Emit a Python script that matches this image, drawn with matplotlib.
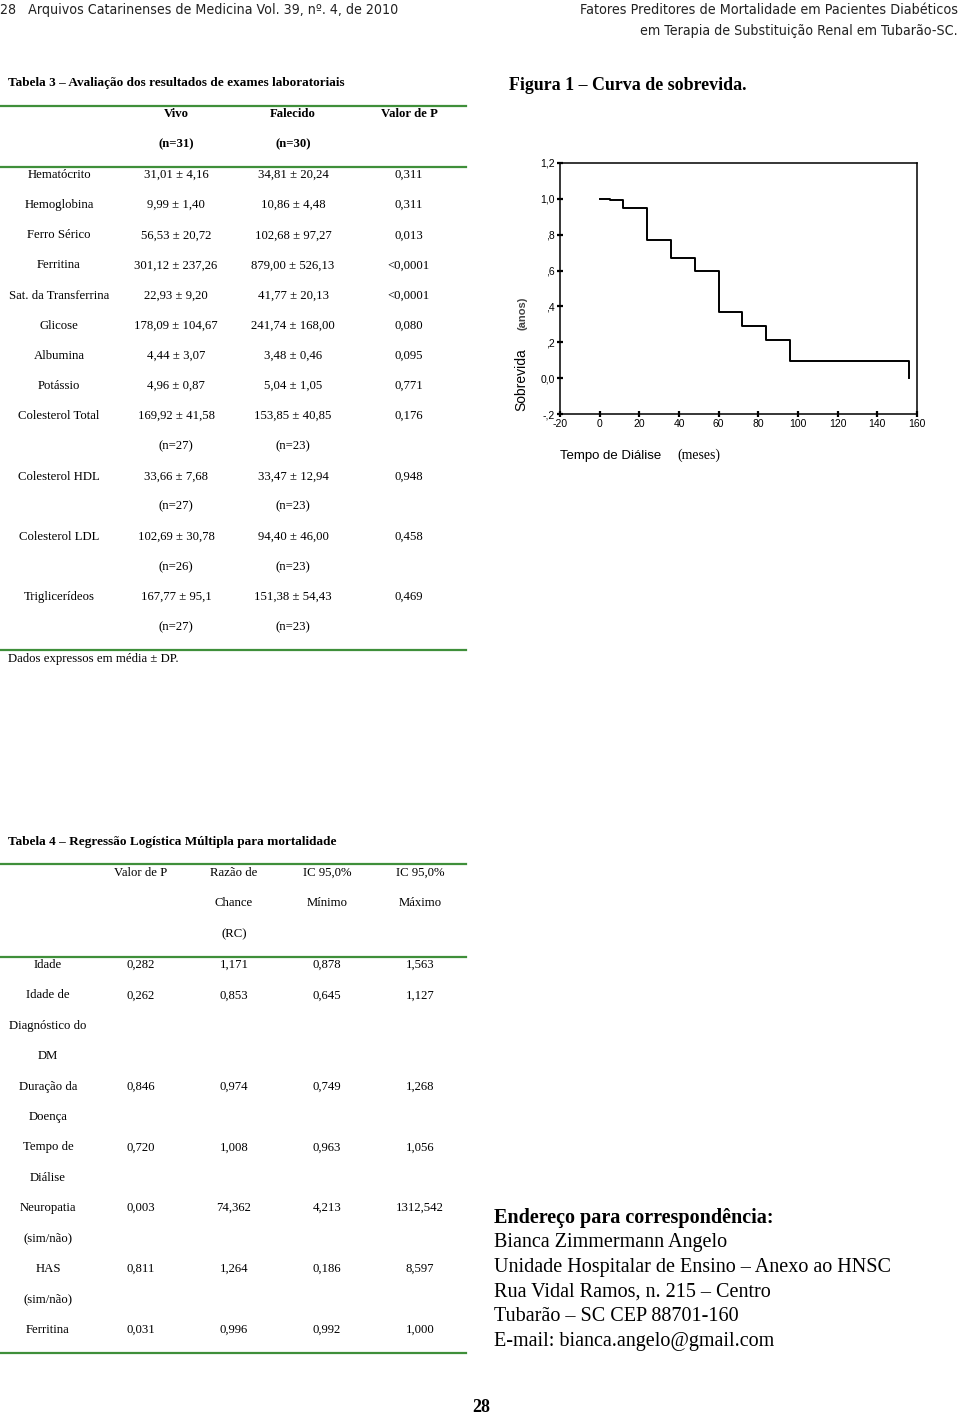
import matplotlib
matplotlib.use("Agg")
import matplotlib.pyplot as plt

plt.rcParams["axes.unicode_minus"] = False

# ---- data read from the page ----
header_left = "28   Arquivos Catarinenses de Medicina Vol. 39, nº. 4, de 2010"
header_right = ["Fatores Preditores de Mortalidade em Pacientes Diabéticos",
                "em Terapia de Substituição Renal em Tubarão-SC."]

t3_title = "Tabela 3 – Avaliação dos resultados de exames laboratoriais"
t3_head = ["Vivo", "Falecido", "Valor de P"]
t3_head_n = ["(n=31)", "(n=30)"]
t3_rows = ["Hematócrito", "Hemoglobina", "Ferro Sérico", "Ferritina",
           "Sat. da Transferrina", "Glicose", "Albumina", "Potássio",
           "Colesterol Total", "Colesterol HDL", "Colesterol LDL", "Triglicerídeos"]
t3_vivo = ["31,01 ± 4,16", "9,99 ± 1,40", "56,53 ± 20,72", "301,12 ± 237,26",
           "22,93 ± 9,20", "178,09 ± 104,67", "4,44 ± 3,07", "4,96 ± 0,87",
           "169,92 ± 41,58", "33,66 ± 7,68", "102,69 ± 30,78", "167,77 ± 95,1"]
t3_falecido = ["34,81 ± 20,24", "10,86 ± 4,48", "102,68 ± 97,27", "879,00 ± 526,13",
               "41,77 ± 20,13", "241,74 ± 168,00", "3,48 ± 0,46", "5,04 ± 1,05",
               "153,85 ± 40,85", "33,47 ± 12,94", "94,40 ± 46,00", "151,38 ± 54,43"]
t3_p = ["0,311", "0,311", "0,013", "<0,0001", "<0,0001", "0,080", "0,095",
        "0,771", "0,176", "0,948", "0,458", "0,469"]
t3_n_vivo = [None] * 8 + ["(n=27)", "(n=27)", "(n=26)", "(n=27)"]
t3_n_falecido = [None] * 8 + ["(n=23)", "(n=23)", "(n=23)", "(n=23)"]
t3_note = "Dados expressos em média ± DP."

fig_title = "Figura 1 – Curva de sobrevida."
surv_time = [0, 5, 12, 24, 36, 48, 60, 72, 84, 96, 156]
surv_prob = [1.0, 0.995, 0.95, 0.77, 0.67, 0.595, 0.37, 0.29, 0.21, 0.095, 0.0]
x_ticks = [-20, 0, 20, 40, 60, 80, 100, 120, 140, 160]
y_ticks = [-0.2, 0.0, 0.2, 0.4, 0.6, 0.8, 1.0, 1.2]
y_tick_labels = ["-,2", "0,0", ",2", ",4", ",6", ",8", "1,0", "1,2"]

t4_title = "Tabela 4 – Regressão Logística Múltipla para mortalidade"
t4_head = [["Valor de P"], ["Razão de", "Chance", "(RC)"],
           ["IC 95,0%", "Mínimo"], ["IC 95,0%", "Máximo"]]
t4_rows = [["Idade"], ["Idade de", "Diagnóstico do", "DM"], ["Duração da", "Doença"],
           ["Tempo de", "Diálise"], ["Neuropatia", "(sim/não)"],
           ["HAS", "(sim/não)"], ["Ferritina"]]
t4_p = ["0,282", "0,262", "0,846", "0,720", "0,003", "0,811", "0,031"]
t4_rc = ["1,171", "0,853", "0,974", "1,008", "74,362", "1,264", "0,996"]
t4_min = ["0,878", "0,645", "0,749", "0,963", "4,213", "0,186", "0,992"]
t4_max = ["1,563", "1,127", "1,268", "1,056", "1312,542", "8,597", "1,000"]

address = ["Bianca Zimmermann Angelo",
           "Unidade Hospitalar de Ensino – Anexo ao HNSC",
           "Rua Vidal Ramos, n. 215 – Centro",
           "Tubarão – SC CEP 88701-160",
           "E-mail: bianca.angelo@gmail.com"]

SERIF = ["Liberation Serif", "DejaVu Serif"]
SANS = ["Liberation Sans", "DejaVu Sans"]
GREEN = "#3f8f3a"

fig = plt.figure(figsize=(9.6, 14.18), dpi=100)
page = fig.add_axes([0, 0, 1, 1])
page.set_xlim(0, 960)
page.set_ylim(1418, 0)
page.axis("off")


def fit_width(txt, width_px):
    # shrink/grow a text until it spans width_px pixels
    r = fig.canvas.get_renderer()
    w = txt.get_window_extent(renderer=r).width
    txt.set_fontsize(txt.get_fontsize() * width_px / w)


# header (condensed sans in the original)
h1 = page.text(0, 10, header_left, family="DejaVu Sans", fontstretch="condensed",
               fontsize=13, color="#222", va="center", ha="left")
h2 = page.text(958, 10, header_right[0], family="DejaVu Sans", fontstretch="condensed",
               fontsize=13, color="#222", va="center", ha="right")
h3 = page.text(958, 31, header_right[1], family="DejaVu Sans", fontstretch="condensed",
               fontsize=13, color="#222", va="center", ha="right")
fit_width(h1, 397)
fit_width(h2, 378)
fit_width(h3, 316)

# ---- Tabela 3 ----
page.text(8, 83, t3_title, family=SERIF, fontsize=9.5, weight="bold", va="center")
for yl in (106, 167, 650):
    page.plot([0, 466], [yl, yl], color=GREEN, lw=1.6)
cols3 = [59, 176, 293, 409]
for x, s in zip(cols3[1:], t3_head):
    page.text(x, 114, s, family=SERIF, fontsize=9.2, weight="bold", ha="center", va="center")
for x, s in zip(cols3[1:3], t3_head_n):
    page.text(x, 144, s, family=SERIF, fontsize=9.2, weight="bold", ha="center", va="center")

step3 = 30.15
k = 0
for i, name in enumerate(t3_rows):
    y = 175 + k * step3
    for x, s in zip(cols3, [name, t3_vivo[i], t3_falecido[i], t3_p[i]]):
        page.text(x, y, s, family=SERIF, fontsize=9.2, ha="center", va="center")
    k += 1
    if t3_n_vivo[i]:
        y = 175 + k * step3
        page.text(cols3[1], y, t3_n_vivo[i], family=SERIF, fontsize=9.2, ha="center", va="center")
        page.text(cols3[2], y, t3_n_falecido[i], family=SERIF, fontsize=9.2, ha="center", va="center")
        k += 1
page.text(8, 659, t3_note, family=SERIF, fontsize=9.2, va="center")

# ---- Figura 1 ----
page.text(509, 86, fig_title, family=SERIF, fontsize=12.9, weight="bold", va="center")
ax = fig.add_axes([560 / 960, 1 - 414 / 1418, 357 / 960, 251 / 1418])
ax.step(surv_time, surv_prob, where="post", color="black", lw=1.4)
ax.set_xlim(-20, 160)
ax.set_ylim(-0.2, 1.2)
ax.set_xticks(x_ticks)
ax.set_yticks(y_ticks)
ax.set_yticklabels(y_tick_labels)
for sp in ax.spines.values():
    sp.set_linewidth(1.1)
ax.tick_params(direction="inout", length=4, width=1.6, pad=1.5, labelsize=7.5)
for lab in ax.get_xticklabels() + ax.get_yticklabels():
    lab.set_family(SANS)
page.text(521, 380, "Sobrevida", family=SANS, fontsize=10, rotation=90,
          ha="center", va="center")
page.text(523, 313, "(anos)", family=SANS, fontsize=8, weight="bold", color="#444",
          rotation=90, ha="center", va="center")
page.text(560, 456, "Tempo de Diálise", family=SANS, fontsize=9.5, ha="left", va="center")
page.text(677, 455, "(meses)", family=SERIF, fontsize=10, ha="left", va="center")

# ---- Tabela 4 ----
page.text(8, 842, t4_title, family=SERIF, fontsize=9.5, weight="bold", va="center")
for yl in (864, 957, 1353):
    page.plot([0, 466], [yl, yl], color=GREEN, lw=1.6)
cols4 = [48, 141, 234, 327, 420]
for x, lines in zip(cols4[1:], t4_head):
    for j, s in enumerate(lines):
        page.text(x, 873 + j * 30.5, s, family=SERIF, fontsize=9.2, ha="center", va="center")

step4 = 30.4
k = 0
for i, lines in enumerate(t4_rows):
    y0 = 965 + k * step4
    for j, s in enumerate(lines):
        page.text(cols4[0], y0 + j * step4, s, family=SERIF, fontsize=9.2,
                  ha="center", va="center")
    for x, s in zip(cols4[1:], [t4_p[i], t4_rc[i], t4_min[i], t4_max[i]]):
        page.text(x, y0, s, family=SERIF, fontsize=9.2, ha="center", va="center")
    k += len(lines)

# ---- address ----
page.text(494, 1218, "Endereço para correspondência:", family=SERIF, fontsize=14.5,
          weight="bold", va="center")
for j, s in enumerate(address):
    page.text(494, 1243 + j * 24.6, s, family=SERIF, fontsize=14.5, va="center")

page.text(481, 1408, "28", family=SERIF, fontsize=13, weight="bold", ha="center", va="center")

fig.savefig("out.png", dpi=100, facecolor="white")
